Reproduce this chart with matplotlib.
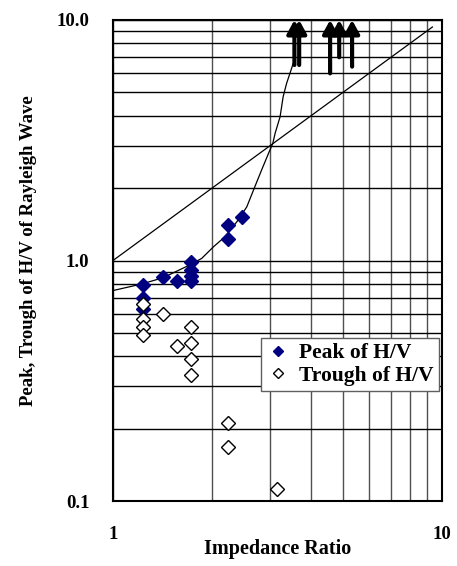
import matplotlib
matplotlib.use('Agg')
import matplotlib.pyplot as plt
from matplotlib.ticker import FixedLocator, NullFormatter

plt.rcParams['font.family'] = ['Liberation Serif', 'DejaVu Serif']
plt.rcParams['font.weight'] = 'bold'

# ---------------- data ----------------
peak_x = [1.23, 1.23, 1.23, 1.42, 1.57, 1.73, 1.73, 1.73, 1.73, 2.24, 2.24, 2.46]
peak_y = [0.79, 0.70, 0.63, 0.85, 0.82, 0.99, 0.91, 0.86, 0.82, 1.40, 1.23, 1.51]

trough_x = [1.23, 1.23, 1.23, 1.23, 1.42, 1.73, 1.57, 1.73, 1.73, 1.73, 2.24, 2.24, 3.16]
trough_y = [0.66, 0.57, 0.53, 0.49, 0.60, 0.53, 0.44, 0.455, 0.39, 0.334, 0.212, 0.167, 0.112]

curve_x = [1.0, 1.12, 1.22, 1.42, 1.71, 1.86, 2.02, 2.19, 2.38, 2.55, 2.70, 2.83,
           2.97, 3.06, 3.11, 3.22, 3.29, 3.37, 3.45, 3.53]
curve_y = [0.75, 0.777, 0.798, 0.848, 0.958, 1.02, 1.14, 1.256, 1.45, 1.67, 2.03, 2.38,
           2.79, 3.07, 3.38, 3.96, 4.80, 5.45, 6.0, 6.6]

diag_x = [1.0, 9.35]
diag_y = [1.0, 9.35]

arrow_x = [3.56, 3.68, 4.57, 4.87, 5.33]
arrow_base = [6.5, 6.5, 6.0, 7.0, 6.4]

xticks = [1, 10]
xticklabels = ['1', '10']
yticks = [0.1, 1, 10]
yticklabels = ['0.1', '1.0', '10.0']

# ---------------- figure ----------------
fig = plt.figure(figsize=(4.57, 5.66), dpi=100)
ax = fig.add_axes([113/457, 1 - 501/566, 329/457, 481/566])
ax.set_xscale('log')
ax.set_yscale('log')
ax.set_xlim(1, 10)
ax.set_ylim(0.1, 10)

ax.grid(which='both', axis='y', color='black', lw=1.0)
ax.grid(which='both', axis='x', color='#505050', lw=1.0)
ax.set_axisbelow(True)

ax.plot(diag_x, diag_y, color='black', lw=0.9)
ax.plot(curve_x, curve_y, color='black', lw=0.9, solid_joinstyle='round')

ax.plot(peak_x, peak_y, 'D', color='#000080', ms=7.5, mec='#000080', ls='none',
        label='Peak of H/V')
ax.plot(trough_x, trough_y, 'D', mfc='white', mec='black', mew=1.0, ms=7.5, ls='none',
        label='Trough of H/V')

for x, yb in zip(arrow_x, arrow_base):
    ax.annotate('', xy=(x, 10), xytext=(x, yb), annotation_clip=False,
                arrowprops=dict(arrowstyle='-|>,head_length=0.4,head_width=0.22',
                                mutation_scale=20, color='black', lw=3,
                                shrinkA=0, shrinkB=0))

ax.xaxis.set_major_locator(FixedLocator(xticks))
ax.set_xticklabels(xticklabels)
ax.yaxis.set_major_locator(FixedLocator(yticks))
ax.set_yticklabels(yticklabels)
ax.xaxis.set_minor_formatter(NullFormatter())
ax.yaxis.set_minor_formatter(NullFormatter())
ax.tick_params(which='both', length=0, labelsize=13.5)
ax.tick_params(axis='y', pad=17)
ax.tick_params(axis='x', pad=18)

for s in ax.spines.values():
    s.set_linewidth(1.5)

ax.set_xlabel('Impedance Ratio', fontsize=14.5, fontweight='bold')
ax.xaxis.set_label_coords(0.5, -0.08)
ax.set_ylabel('Peak, Trough of H/V of Rayleigh Wave', fontsize=13.5, fontweight='bold')
ax.yaxis.set_label_coords(-0.232, 0.52)

leg = ax.legend(loc='upper right', bbox_to_anchor=(0.991, 0.339), borderaxespad=0,
                fancybox=False, framealpha=1, edgecolor='#606060', fontsize=15.5,
                handlelength=1.0, handletextpad=0.5, borderpad=0.25, labelspacing=0.1,
                markerscale=0.7)
leg.get_frame().set_linewidth(1.0)

fig.savefig('out.png', dpi=100)
